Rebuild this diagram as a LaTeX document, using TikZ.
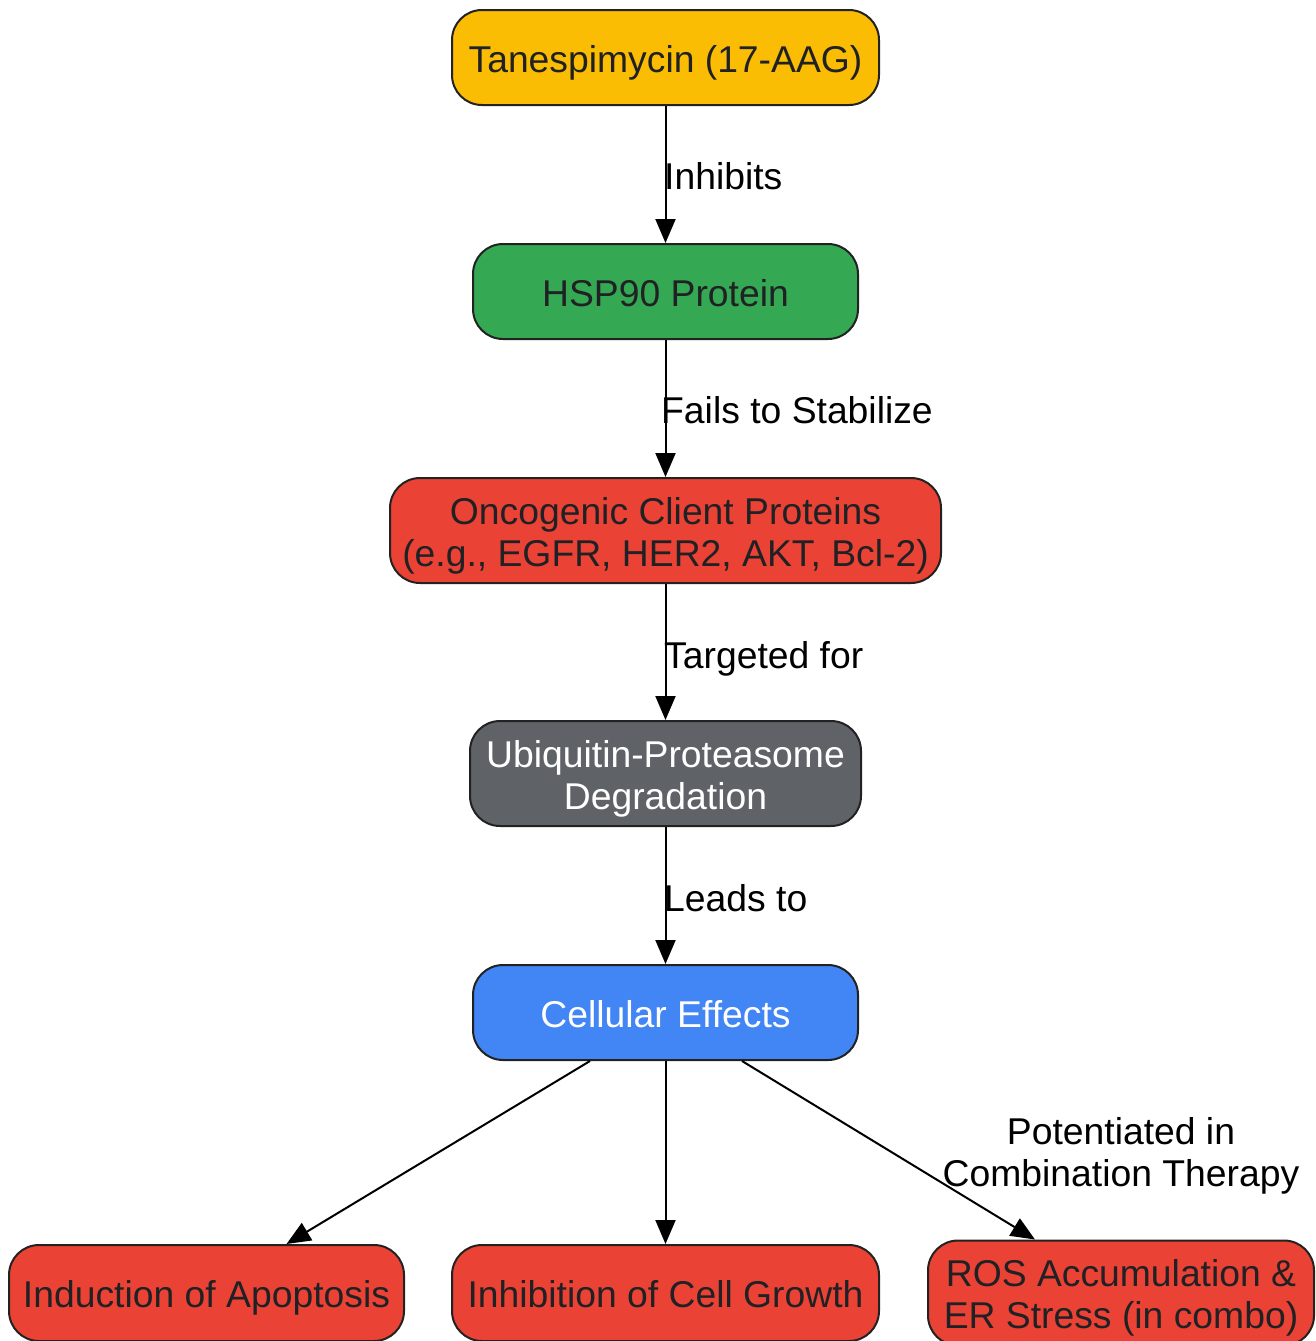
\documentclass[tikz,border=0pt]{standalone}
\usepackage{fontspec}
\setmainfont{Liberation Sans}
\usetikzlibrary{arrows.meta}
\definecolor{cyellow}{HTML}{FBBC04}
\definecolor{cgreen}{HTML}{34A853}
\definecolor{cred}{HTML}{EA4335}
\definecolor{cgray}{HTML}{5F6368}
\definecolor{cblue}{HTML}{4285F4}
\definecolor{cborder}{HTML}{222222}
\definecolor{ctext}{HTML}{202124}
\begin{document}
\begin{tikzpicture}[x=1pt,y=-1pt,
  txt/.style={font=\fontsize{37.3}{42}\selectfont,inner sep=0pt,align=center,
    text height=37.3pt,text depth=8.2pt},
  twoline/.style={text height=79.3pt},
  box/.style={txt,draw=cborder,line width=2pt,rounded corners=30pt,text=ctext},
  conn/.style={line width=2pt,-{Triangle[length=24pt,width=20pt]}},
  elabel/.style={txt}]
\useasboundingbox (0,0) rectangle (1316,1341);
\node[box,fill=cyellow,minimum width=427pt,minimum height=95pt] (tan) at (665.5,57.5) {Tanespimycin (17-AAG)};
\node[box,fill=cgreen,minimum width=385pt,minimum height=95pt] (hsp) at (665.5,291.5) {HSP90 Protein};
\node[box,twoline,fill=cred,minimum width=551pt,minimum height=105pt] (onc) at (665.5,530.5) {Oncogenic Client Proteins\\(e.g., EGFR, HER2, AKT, Bcl-2)};
\node[box,twoline,fill=cgray,text=white,minimum width=391pt,minimum height=105pt] (ubi) at (665.5,773.5) {Ubiquitin-Proteasome\\Degradation};
\node[box,fill=cblue,text=white,minimum width=385pt,minimum height=95pt] (cell) at (665.5,1012.5) {Cellular Effects};
\node[box,fill=cred,minimum width=395pt,minimum height=96pt] (apo) at (206.5,1293) {Induction of Apoptosis};
\node[box,fill=cred,minimum width=427pt,minimum height=96pt] (inh) at (665.5,1293) {Inhibition of Cell Growth};
\node[box,twoline,fill=cred,minimum width=386pt,minimum height=105pt] (ros) at (1121,1293) {ROS Accumulation \&\\ER Stress (in combo)};

\draw[conn] (tan) -- (hsp);
\draw[conn] (hsp) -- (onc);
\draw[conn] (onc) -- (ubi);
\draw[conn] (ubi) -- (cell);
\draw[conn] ([xshift=-75.5pt]cell.south) -- ([xshift=80pt]apo.north);
\draw[conn] (cell) -- (inh);
\draw[conn] ([xshift=76.5pt]cell.south) -- ([xshift=-86pt]ros.north);

\node[elabel,anchor=west] (l1) at (664,175) {Inhibits};
\node[elabel,anchor=west] (l2) at (661,409) {Fails to Stabilize};
\node[elabel,anchor=west] (l3) at (664,654) {Targeted for};
\node[elabel,anchor=west] (l4) at (664,897) {Leads to};
\node[elabel,twoline] (l5) at (1121,1151) {Potentiated in\\Combination Therapy};
\end{tikzpicture}
\end{document}
